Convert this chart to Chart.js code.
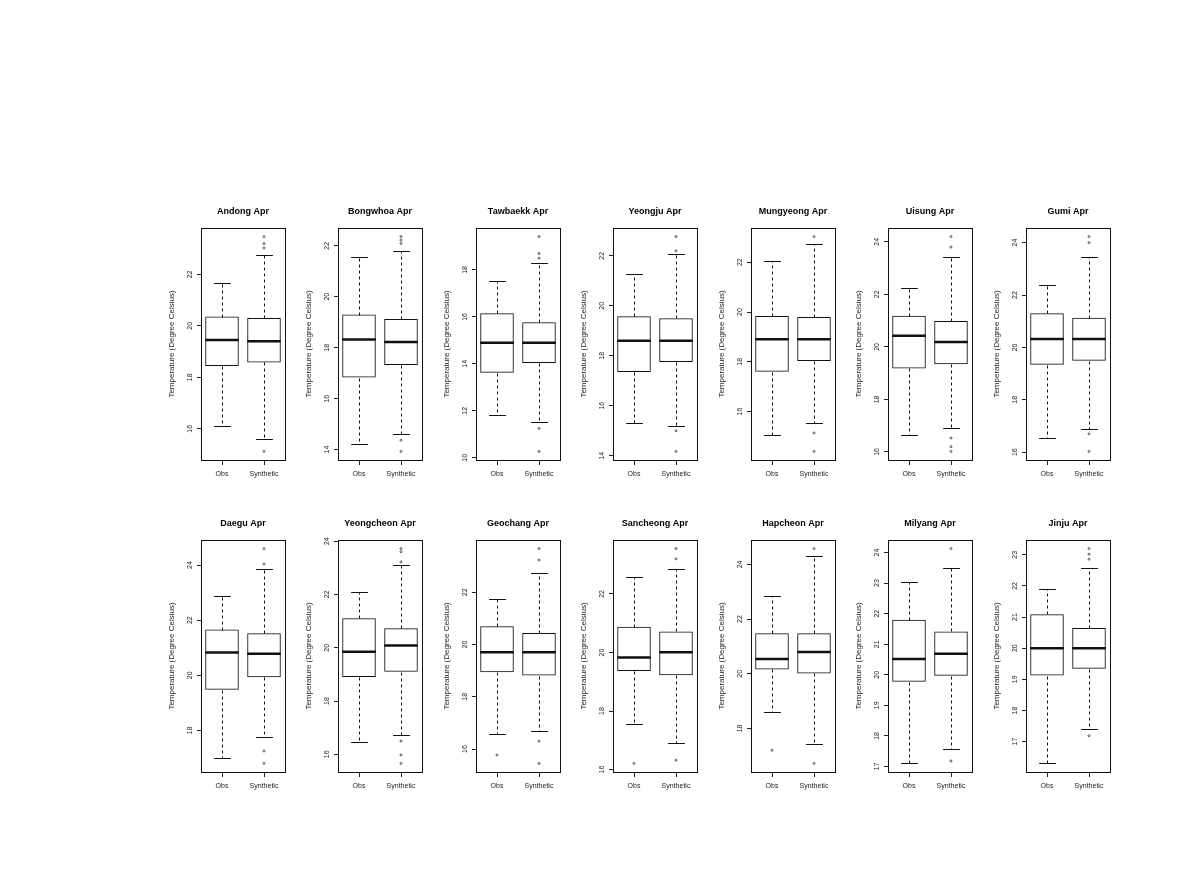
<!DOCTYPE html>
<html>
<head>
<meta charset="utf-8">
<title>April temperature, Obs vs Synthetic</title>
<script src="https://cdn.jsdelivr.net/npm/chart.js@4.4.0/dist/chart.umd.min.js"></script>
<style>
  html, body { margin: 0; padding: 0; background: #fff; }
  #page { position: relative; width: 1190px; height: 876px; overflow: hidden; }
  .panel { position: absolute; }
</style>
</head>
<body>
<div id="page"></div>
<script>
const stations = ['Andong', 'Bongwhoa', 'Tawbaekk', 'Yeongju', 'Mungyeong', 'Uisung', 'Gumi',
                  'Daegu', 'Yeongcheon', 'Geochang', 'Sancheong', 'Hapcheon', 'Milyang', 'Jinju'];
const groups = ['Obs', 'Synthetic'];

const yTicks = [
  [16, 18, 20, 22], [14, 16, 18, 20, 22], [10, 12, 14, 16, 18], [14, 16, 18, 20, 22],
  [16, 18, 20, 22], [16, 18, 20, 22, 24], [16, 18, 20, 22, 24],
  [18, 20, 22, 24], [16, 18, 20, 22, 24], [16, 18, 20, 22], [16, 18, 20, 22],
  [18, 20, 22, 24], [17, 18, 19, 20, 21, 22, 23, 24], [17, 18, 19, 20, 21, 22, 23]
];

// [lower whisker, q1, median, q3, upper whisker]
const obsStats = [
  [16.1, 18.44, 19.45, 20.36, 21.65],
  [14.24, 16.83, 18.32, 19.3, 21.54],
  [11.8, 13.62, 14.9, 16.15, 17.52],
  [15.3, 17.35, 18.6, 19.58, 21.26],
  [15.06, 17.6, 18.91, 19.84, 22.04],
  [16.66, 19.18, 20.42, 21.19, 22.23],
  [16.55, 19.34, 20.32, 21.3, 22.39],
  [17.0, 19.47, 20.83, 21.66, 22.88],
  [16.45, 18.9, 19.85, 21.11, 22.1],
  [16.59, 18.94, 19.7, 20.7, 21.73],
  [17.54, 19.37, 19.83, 20.88, 22.58],
  [18.6, 20.16, 20.54, 21.48, 22.84],
  [17.1, 19.77, 20.52, 21.8, 23.03],
  [16.3, 19.12, 20.0, 21.09, 21.89]
];
const synStats = [
  [15.6, 18.58, 19.4, 20.31, 22.77],
  [14.6, 17.32, 18.22, 19.13, 21.8],
  [11.52, 14.04, 14.9, 15.77, 18.3],
  [15.2, 17.75, 18.6, 19.5, 22.08],
  [15.54, 18.03, 18.91, 19.8, 22.75],
  [16.9, 19.34, 20.19, 20.99, 23.43],
  [16.9, 19.49, 20.32, 21.13, 23.47],
  [17.76, 19.93, 20.78, 21.53, 23.85],
  [16.73, 19.1, 20.08, 20.73, 23.1],
  [16.68, 18.81, 19.7, 20.44, 22.75],
  [16.9, 19.22, 20.01, 20.72, 22.86],
  [17.43, 20.01, 20.8, 21.48, 24.3],
  [17.57, 19.97, 20.69, 21.42, 23.48],
  [17.4, 19.34, 20.0, 20.65, 22.57]
];
const obsOutliers = [
  [], [], [], [], [], [], [],
  [], [], [15.77], [16.21], [17.2], [], []
];
const synOutliers = [
  [23.03, 23.2, 23.47, 15.12],
  [22.09, 22.22, 22.36, 14.37, 13.93],
  [18.5, 18.7, 19.42, 11.25, 10.27],
  [22.2, 22.77, 15.0, 14.17],
  [23.03, 15.14, 14.4],
  [23.8, 24.2, 16.53, 16.2, 16.02],
  [24.0, 24.23, 16.7, 16.03],
  [24.04, 24.6, 17.25, 16.8],
  [23.22, 23.6, 23.72, 16.5, 15.98, 15.66],
  [23.23, 23.67, 16.3, 15.45],
  [23.2, 23.55, 16.32],
  [24.58, 16.72],
  [24.13, 17.18],
  [22.86, 23.02, 23.2, 17.19]
];

// page layout (plot box corners)
const colLeft = [201, 338, 476, 613, 751, 888, 1026];
const rowTop = [228, 540];
const boxW = 84, boxH = 232;
const yAxisW = 46, xAxisH = 24, titleH = 26;

Chart.defaults.font.family = '"Liberation Sans", Arial, sans-serif';

const smallFont = { size: 7 };
const inkColor = '#222';

// whiskers, staples, medians and the frame around the plot region
function makeBoxPlugin(stats) {
  return {
    id: 'boxWhiskers',
    afterDatasetsDraw(chart) {
      const { ctx, chartArea, scales: { y } } = chart;
      const bars = chart.getDatasetMeta(0).data;
      const seg = (x1, y1, x2, y2) => {
        ctx.beginPath();
        ctx.moveTo(x1, y1);
        ctx.lineTo(x2, y2);
        ctx.stroke();
      };
      ctx.save();
      ctx.strokeStyle = '#111';
      bars.forEach((bar, i) => {
        const [lo, q1, med, q3, hi] = stats[i];
        const cx = Math.round(bar.x) + 0.5;
        const half = bar.width / 2;
        const py = v => Math.round(y.getPixelForValue(v)) + 0.5;

        ctx.lineWidth = 1;
        ctx.setLineDash([3, 3]);
        seg(cx, py(q3), cx, py(hi));
        seg(cx, py(q1), cx, py(lo));
        ctx.setLineDash([]);
        seg(cx - half / 2, py(hi), cx + half / 2, py(hi));
        seg(cx - half / 2, py(lo), cx + half / 2, py(lo));

        ctx.lineWidth = 2.5;
        seg(bar.x - half, y.getPixelForValue(med), bar.x + half, y.getPixelForValue(med));
      });
      ctx.lineWidth = 1;
      ctx.strokeRect(Math.round(chartArea.left) + 0.5, Math.round(chartArea.top) + 0.5,
                     Math.round(chartArea.width), Math.round(chartArea.height));
      ctx.restore();
    }
  };
}

function yRange(i) {
  const all = obsStats[i].concat(synStats[i], obsOutliers[i], synOutliers[i]);
  const lo = Math.min(...all), hi = Math.max(...all);
  const pad = (hi - lo) * 0.04;
  return { min: lo - pad, max: hi + pad };
}

function buildPanel(i) {
  const page = document.getElementById('page');
  const row = Math.floor(i / 7), col = i % 7;
  // symmetric canvas so the title centres over the plot box
  const w = yAxisW + boxW + yAxisW;
  const h = titleH + boxH + xAxisH;

  const holder = document.createElement('div');
  holder.className = 'panel';
  holder.style.left = (colLeft[col] - yAxisW) + 'px';
  holder.style.top = (rowTop[row] - titleH) + 'px';
  const canvas = document.createElement('canvas');
  canvas.width = w;
  canvas.height = h;
  holder.appendChild(canvas);
  page.appendChild(holder);

  const obs = obsStats[i], syn = synStats[i];
  const points = obsOutliers[i].map(v => ({ x: groups[0], y: v }))
    .concat(synOutliers[i].map(v => ({ x: groups[1], y: v })));
  const range = yRange(i);

  return new Chart(canvas, {
    type: 'bar',
    data: {
      labels: groups,
      datasets: [
        {
          type: 'bar',
          data: [[obs[1], obs[3]], [syn[1], syn[3]]],
          backgroundColor: 'rgba(255,255,255,0)',
          borderColor: '#111',
          borderWidth: 1,
          borderSkipped: false,
          barPercentage: 0.8,
          categoryPercentage: 1
        },
        {
          type: 'scatter',
          data: points,
          pointStyle: 'circle',
          radius: 1,
          borderWidth: 1,
          borderColor: '#555',
          backgroundColor: 'rgba(255,255,255,0)'
        }
      ]
    },
    options: {
      responsive: false,
      animation: false,
      devicePixelRatio: 1,
      layout: { padding: 0 },
      plugins: {
        legend: { display: false },
        tooltip: { enabled: false },
        title: {
          display: true,
          text: stations[i] + ' Apr',
          color: '#000',
          font: { size: 9, weight: 'bold', lineHeight: '11px' },
          padding: { top: 4, bottom: 11 }
        }
      },
      scales: {
        x: {
          type: 'category',
          offset: true,
          grid: { offset: false, drawOnChartArea: false, tickLength: 5, color: inkColor },
          border: { display: false },
          ticks: { font: smallFont, color: inkColor, padding: 5 },
          afterFit: s => { s.height = xAxisH; }
        },
        y: {
          min: range.min,
          max: range.max,
          afterBuildTicks: s => { s.ticks = yTicks[i].map(v => ({ value: v })); },
          grid: { drawOnChartArea: false, tickLength: 4, color: inkColor },
          border: { display: true, color: inkColor },
          ticks: {
            minRotation: 90, maxRotation: 90, crossAlign: 'center', autoSkip: false,
            padding: 3, font: smallFont, color: inkColor
          },
          title: {
            display: true,
            text: 'Temperature (Degree Celsius)',
            color: inkColor,
            font: { size: 8, lineHeight: '8px' },
            padding: { top: 13, bottom: 0 }
          },
          afterFit: s => { s.width = yAxisW; }
        },
        // empty spacer on the right, same width as the y axis
        yRight: {
          position: 'right',
          display: true,
          grid: { display: false },
          border: { display: false },
          ticks: { display: false },
          afterFit: s => { s.width = yAxisW; }
        }
      }
    },
    plugins: [makeBoxPlugin([obs, syn])]
  });
}

stations.forEach((name, i) => buildPanel(i));
</script>
</body>
</html>
